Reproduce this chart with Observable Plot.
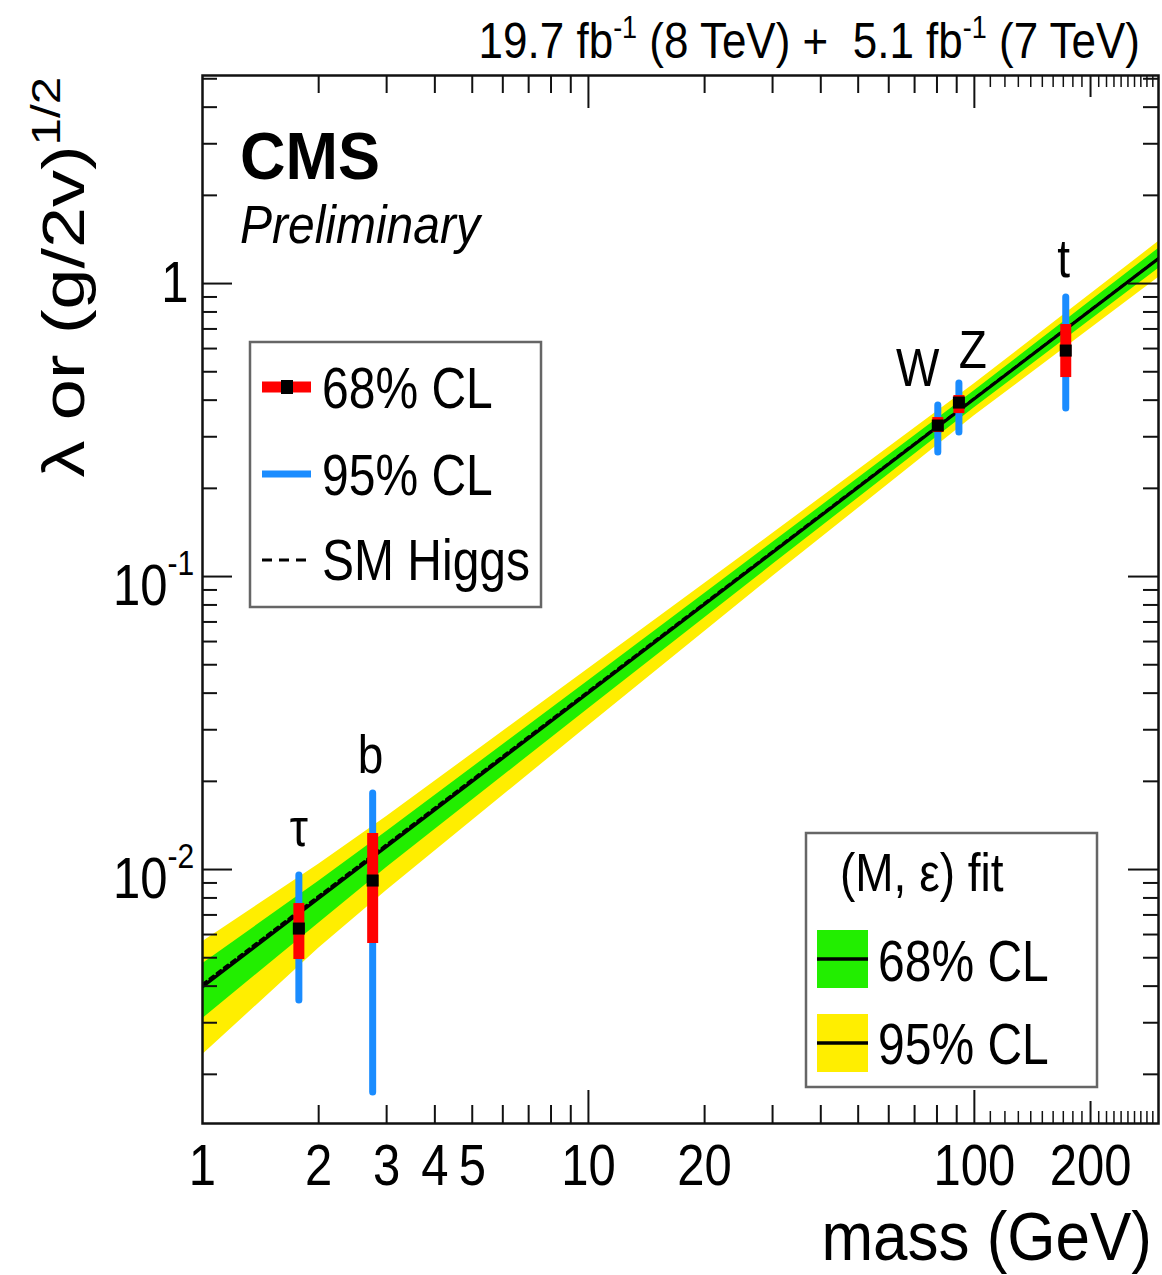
<!DOCTYPE html>
<html><head><meta charset="utf-8">
<script src="https://cdn.jsdelivr.net/npm/d3@7"></script>
<script src="https://cdn.jsdelivr.net/npm/@observablehq/plot@0.6"></script>
<style>
html,body{margin:0;padding:0;background:#fff;}
#chart{width:1162px;height:1275px;overflow:hidden;}
</style></head><body><div id="chart"></div>
<script>
// ---- fit bands ----
const bandMass   = [1, 2, 3, 10, 30, 100, 300];
const fitCentral = [0.003981, 0.007980, 0.011985, 0.04011, 0.12078, 0.4043, 1.2166];
const smHiggs    = [0.004062, 0.008123, 0.012185, 0.04062, 0.12185, 0.4062, 1.2186];
const green68Hi  = [0.004770, 0.009120, 0.013484, 0.04408, 0.13062, 0.4304, 1.3165];
const green68Lo  = [0.003096, 0.006558, 0.010160, 0.03538, 0.10987, 0.3766, 1.1248];
const yellow95Hi = [0.005670, 0.010423, 0.015171, 0.04843, 0.14019, 0.4548, 1.3906];
const yellow95Lo = [0.002332, 0.005384, 0.008482, 0.03096, 0.10000, 0.3536, 1.0481];

// ---- particles ----
const particles    = ["τ", "b", "W", "Z", "t"];
const particleMass = [1.777, 2.76, 80.4, 91.19, 172.5];
const coupling     = [0.006289, 0.009173, 0.3277, 0.3925, 0.5906];
const cl68Hi       = [0.007655, 0.013270, 0.3488, 0.4147, 0.7247];
const cl68Lo       = [0.004930, 0.005591, 0.3101, 0.3599, 0.4777];
const cl95Hi       = [0.009539, 0.018171, 0.3835, 0.4558, 0.8958];
const cl95Lo       = [0.003571, 0.001733, 0.2650, 0.3101, 0.3746];

// ---- axes ----
const xTickLabels  = [1, 2, 3, 4, 5, 10, 20, 100, 200];
const xMajorTicks  = [10, 100];
const xMinorTicks  = [2, 3, 4, 5, 6, 7, 8, 9, 20, 30, 40, 50, 60, 70, 80, 90];
const xMidTicks    = [200];
const xSmallTicks  = [110, 120, 130, 140, 150, 160, 170, 180, 190, 210, 220, 230, 240, 250, 260, 270, 280, 290];
const yMajorTicks  = [0.01, 0.1, 1];
const yMinorTicks  = [0.002, 0.003, 0.004, 0.005, 0.006, 0.007, 0.008, 0.009,
                      0.02, 0.03, 0.04, 0.05, 0.06, 0.07, 0.08, 0.09,
                      0.2, 0.3, 0.4, 0.5, 0.6, 0.7, 0.8, 0.9, 2, 3, 4, 5];
const yTickValues  = [0.01, 0.1, 1];
const yTickBase    = ["10", "10", "1"];
const yTickExp     = ["-2", "-1", ""];

const W = 1162, H = 1275;
const mL = 202, mR = 4, mT = 75, mB = 152;
const fw = W - mL - mR, fh = H - mT - mB;
const FONT = "'Liberation Sans', Arial, Helvetica, sans-serif";
const K = 1.18; // vertical text stretch seen in the picture
const bandIdx = d3.range(bandMass.length);
const pIdx = d3.range(particles.length);
const yIdx = d3.range(yTickValues.length);
const bx = i => bandMass[i];
const px = i => particleMass[i];
const TK = "#111";

const plot = Plot.plot({
  width: W, height: H,
  marginLeft: mL, marginRight: mR, marginTop: mT, marginBottom: mB,
  style: {fontFamily: FONT, background: "#fff", overflow: "visible", color: "#000"},
  x: {type: "log", domain: [1, 300], axis: null},
  y: {type: "log", domain: [0.001359, 5.13], axis: null},
  marks: [
    Plot.areaY(bandIdx, {x: bx, y1: i => yellow95Lo[i], y2: i => yellow95Hi[i], fill: "#ffee00", clip: true}),
    Plot.areaY(bandIdx, {x: bx, y1: i => green68Lo[i], y2: i => green68Hi[i], fill: "#22ee00", clip: true}),
    Plot.line(bandIdx, {x: bx, y: i => fitCentral[i], stroke: "#000", strokeWidth: 3.2, clip: true}),
    Plot.line(bandIdx, {x: bx, y: i => smHiggs[i], stroke: "#000", strokeWidth: 2.5, strokeDasharray: "5,4", clip: true}),
    Plot.ruleX(pIdx, {x: px, y1: i => cl95Lo[i], y2: i => cl95Hi[i], stroke: "#1a8cff", strokeWidth: 7, strokeLinecap: "round"}),
    Plot.ruleX(pIdx, {x: px, y1: i => cl68Lo[i], y2: i => cl68Hi[i], stroke: "#ff0000", strokeWidth: 11}),
    Plot.dot(pIdx, {x: px, y: i => coupling[i], symbol: "square", r: 6.8, fill: "#000"}),
    // x ticks (bottom + top)
    Plot.ruleX(xMajorTicks, {x: d => d, insetTop: fh - 33, stroke: TK, strokeWidth: 2}),
    Plot.ruleX(xMajorTicks, {x: d => d, insetBottom: fh - 33, stroke: TK, strokeWidth: 2}),
    Plot.ruleX(xMinorTicks, {x: d => d, insetTop: fh - 18, stroke: TK, strokeWidth: 2}),
    Plot.ruleX(xMinorTicks, {x: d => d, insetBottom: fh - 18, stroke: TK, strokeWidth: 2}),
    Plot.ruleX(xMidTicks, {x: d => d, insetTop: fh - 22, stroke: TK, strokeWidth: 2}),
    Plot.ruleX(xMidTicks, {x: d => d, insetBottom: fh - 22, stroke: TK, strokeWidth: 2}),
    Plot.ruleX(xSmallTicks, {x: d => d, insetTop: fh - 12, stroke: TK, strokeWidth: 1.5}),
    Plot.ruleX(xSmallTicks, {x: d => d, insetBottom: fh - 12, stroke: TK, strokeWidth: 1.5}),
    // y ticks (left + right)
    Plot.ruleY(yMajorTicks, {y: d => d, insetRight: fw - 30, stroke: TK, strokeWidth: 2}),
    Plot.ruleY(yMajorTicks, {y: d => d, insetLeft: fw - 30, stroke: TK, strokeWidth: 2}),
    Plot.ruleY(yMinorTicks, {y: d => d, insetRight: fw - 15, stroke: TK, strokeWidth: 2}),
    Plot.ruleY(yMinorTicks, {y: d => d, insetLeft: fw - 15, stroke: TK, strokeWidth: 2}),
    Plot.frame({stroke: "#111", strokeWidth: 2.5}),
    // tick labels
    Plot.text(xTickLabels, {x: d => d, text: d => String(d), frameAnchor: "bottom", lineAnchor: "bottom", dy: 61, fontSize: 49, fill: "#000"}),
    Plot.text(yIdx, {filter: i => yTickExp[i] === "", y: i => yTickValues[i], text: i => yTickBase[i], frameAnchor: "left",
      lineAnchor: "middle", textAnchor: "end", dx: -14, fontSize: 49, fill: "#000"}),
    Plot.text(yIdx, {filter: i => yTickExp[i] !== "", y: i => yTickValues[i], text: i => yTickBase[i], frameAnchor: "left",
      lineAnchor: "middle", textAnchor: "end", dx: -35, dy: 10, fontSize: 49, fill: "#000"}),
    Plot.text(yIdx, {filter: i => yTickExp[i] !== "", y: i => yTickValues[i], text: i => yTickExp[i], frameAnchor: "left",
      lineAnchor: "middle", textAnchor: "start", dx: -35, dy: -13, fontSize: 30, fill: "#000"}),
    // particle labels
    Plot.text(pIdx, {filter: i => particles[i] === "τ", x: px, y: i => cl95Hi[i], text: i => particles[i], lineAnchor: "bottom", dy: -30, fontSize: 46, fill: "#000"}),
    Plot.text(pIdx, {filter: i => particles[i] === "b" || particles[i] === "t", x: px, y: i => cl95Hi[i], text: i => particles[i], lineAnchor: "bottom", dy: -21, dx: -2, fontSize: 46, fill: "#000"}),
    Plot.text(pIdx, {filter: i => particles[i] === "W", x: px, y: i => cl95Hi[i], text: i => particles[i], lineAnchor: "bottom", dy: -20, dx: -20, fontSize: 46, fill: "#000"}),
    Plot.text(pIdx, {filter: i => particles[i] === "Z", x: px, y: i => cl95Hi[i], text: i => particles[i], lineAnchor: "bottom", dy: -16, dx: 14, fontSize: 46, fill: "#000"})
  ]
});

document.getElementById("chart").appendChild(plot);
const svg = d3.select(plot);

// stretch Plot's own text vertically about each anchor
svg.selectAll("text").each(function() {
  const t = this.getAttribute("transform");
  if (t && /translate/.test(t)) this.setAttribute("transform", `${t} scale(1,${K})`);
  else {
    const x = parseFloat(this.getAttribute("x")) || 0, y = parseFloat(this.getAttribute("y")) || 0;
    this.setAttribute("transform", `translate(${x},${y}) scale(1,${K}) translate(${-x},${-y})`);
  }
});

function txt(x, y, parts, opts = {}) {
  const k = opts.k || K;
  const t = svg.append("text")
    .attr("transform", opts.transform || `translate(${x},${y}) scale(1,${k})`)
    .attr("font-family", FONT).attr("font-size", opts.size || 48)
    .attr("fill", "#000").attr("text-anchor", opts.anchor || "start")
    .style("white-space", "pre");
  if (opts.weight) t.attr("font-weight", opts.weight);
  if (opts.style) t.attr("font-style", opts.style);
  parts.forEach(p => {
    const s = t.append("tspan").text(p.t);
    if (p.size) s.attr("font-size", p.size);
    if (p.dy) s.attr("dy", p.dy);
  });
  return t;
}

// header
txt(1140, 58, [
  {t: "19.7 fb"}, {t: "-1", size: 27, dy: -17}, {t: " (8 TeV) +  5.1 fb", dy: 17},
  {t: "-1", size: 27, dy: -17}, {t: " (7 TeV)", dy: 17}
], {size: 44, anchor: "end", k: 1.15});

// CMS Preliminary
txt(240, 179, [{t: "CMS"}], {size: 63, weight: "bold", k: 1.06});
txt(240, 243, [{t: "Preliminary"}], {size: 48, style: "italic", k: 1.1});

// axis titles
txt(1152, 1260, [{t: "mass (GeV)"}], {size: 62, anchor: "end", k: 1.1});
txt(0, 0, [{t: "λ or (g/2v)"}, {t: "1/2", size: 40, dy: -24}],
  {size: 60, anchor: "end", transform: "translate(84,77) scale(1,1.23) rotate(-90)"});

// legend 1
svg.append("rect").attr("x", 250).attr("y", 342).attr("width", 291).attr("height", 265)
  .attr("fill", "#fff").attr("stroke", "#666").attr("stroke-width", 2.5);
svg.append("line").attr("x1", 262).attr("x2", 311).attr("y1", 387).attr("y2", 387)
  .attr("stroke", "#ff0000").attr("stroke-width", 11);
svg.append("rect").attr("x", 281).attr("y", 380).attr("width", 12).attr("height", 14).attr("fill", "#000");
txt(322, 408, [{t: "68% CL"}], {size: 48});
svg.append("line").attr("x1", 262).attr("x2", 311).attr("y1", 474).attr("y2", 474)
  .attr("stroke", "#1a8cff").attr("stroke-width", 7);
txt(322, 495, [{t: "95% CL"}], {size: 48});
svg.append("line").attr("x1", 262).attr("x2", 312).attr("y1", 560).attr("y2", 560)
  .attr("stroke", "#000").attr("stroke-width", 3).attr("stroke-dasharray", "10,7");
txt(322, 580, [{t: "SM Higgs"}], {size: 48});

// legend 2
svg.append("rect").attr("x", 806).attr("y", 833).attr("width", 291).attr("height", 254)
  .attr("fill", "#fff").attr("stroke", "#666").attr("stroke-width", 2.5);
txt(840, 891, [{t: "(M, ε) fit"}], {size: 46});
svg.append("rect").attr("x", 817).attr("y", 930).attr("width", 51).attr("height", 58).attr("fill", "#22ee00");
svg.append("line").attr("x1", 817).attr("x2", 868).attr("y1", 959).attr("y2", 959).attr("stroke", "#000").attr("stroke-width", 3.5);
txt(878, 981, [{t: "68% CL"}], {size: 48});
svg.append("rect").attr("x", 817).attr("y", 1014).attr("width", 51).attr("height", 58).attr("fill", "#ffee00");
svg.append("line").attr("x1", 817).attr("x2", 868).attr("y1", 1043).attr("y2", 1043).attr("stroke", "#000").attr("stroke-width", 3.5);
txt(878, 1064, [{t: "95% CL"}], {size: 48});
</script></body></html>
